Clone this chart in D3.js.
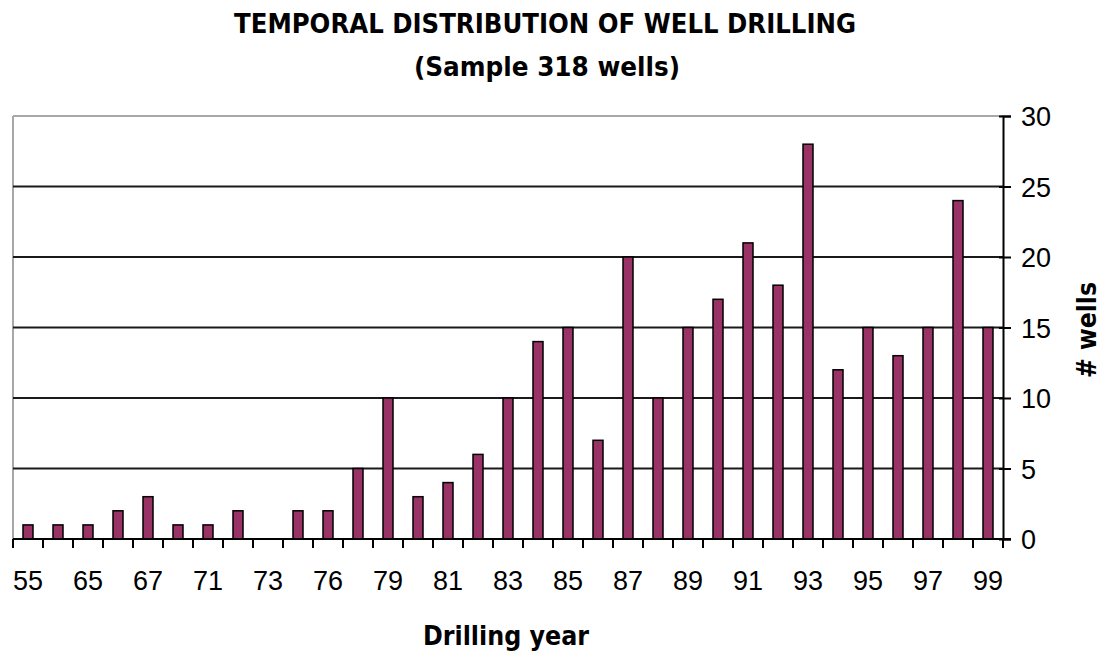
<!DOCTYPE html>
<html>
<head>
<meta charset="utf-8">
<script src="https://cdn.jsdelivr.net/npm/d3@7"></script>
<style>
  body { margin: 0; background: #fff; }
  svg { display: block; }
  .lbl { font-family: "Liberation Sans", Arial, sans-serif; font-size: 27px; fill: #000; }
  .ttl { font-family: "Liberation Sans Narrow", "DejaVu Sans Condensed", "Liberation Sans", sans-serif; font-weight: bold; fill: #000; }
</style>
</head>
<body>
<svg id="chart" width="1103" height="653"></svg>
<script>
// drilling years (only every other one is labelled on the axis)
const years = ["55","60","65","66","67","69","71","72","73","75","76","78","79","80","81","82","83",
               "84","85","86","87","88","89","90","91","92","93","94","95","96","97","98","99"];
const wells = [1,1,1,2,3,1,1,2,0,2,2,5,10,3,4,6,10,
               14,15,7,20,10,15,17,21,18,28,12,15,13,15,24,15];
const xTickLabels = ["55","65","67","71","73","76","79","81","83","85","87","89","91","93","95","97","99"];
const yTicks = [0,5,10,15,20,25,30];

const svg = d3.select("#chart");
const plotLeft = 13, plotRight = 1003, plotTop = 116, plotBottom = 539;

const x = d3.scaleBand().domain(years).range([plotLeft, plotRight]).padding(0);
const y = d3.scaleLinear().domain([0, 30]).range([plotBottom, plotTop]);

// titles
svg.append("text").attr("class", "ttl")
  .attr("x", 545).attr("y", 33).attr("text-anchor", "middle")
  .attr("font-size", 27).attr("textLength", 622).attr("lengthAdjust", "spacingAndGlyphs")
  .text("TEMPORAL DISTRIBUTION OF WELL DRILLING");
svg.append("text").attr("class", "ttl")
  .attr("x", 547).attr("y", 76).attr("text-anchor", "middle")
  .attr("font-size", 27).attr("textLength", 266).attr("lengthAdjust", "spacingAndGlyphs")
  .text("(Sample 318 wells)");

// frame (top + left in gray)
svg.append("line").attr("x1", plotLeft).attr("x2", plotRight).attr("y1", plotTop).attr("y2", plotTop)
  .attr("stroke", "#a8a8a8").attr("stroke-width", 2);
svg.append("line").attr("x1", plotLeft).attr("x2", plotLeft).attr("y1", plotTop).attr("y2", plotBottom)
  .attr("stroke", "#a8a8a8").attr("stroke-width", 2);

// grid lines
svg.selectAll(".grid").data(yTicks.filter(d => d > 0 && d < 30)).enter()
  .append("line").attr("class", "grid")
  .attr("x1", plotLeft).attr("x2", plotRight)
  .attr("y1", d => y(d)).attr("y2", d => y(d))
  .attr("stroke", "#1a1a1a").attr("stroke-width", 2);

// bars
svg.selectAll(".bar").data(wells).enter()
  .append("rect").attr("class", "bar")
  .attr("x", (d, i) => x(years[i]) + x.bandwidth() / 2 - 5)
  .attr("width", 10)
  .attr("y", d => y(d))
  .attr("height", d => plotBottom - y(d))
  .attr("fill", "#993366")
  .attr("stroke", "#000").attr("stroke-width", 1.5);

// x axis: ticks on category boundaries, labels on every other category
const xAxisG = svg.append("g");
xAxisG.append("line").attr("x1", plotLeft).attr("x2", plotRight + 8).attr("y1", plotBottom).attr("y2", plotBottom)
  .attr("stroke", "#000").attr("stroke-width", 2);
const bounds = years.map(d => x(d)).concat([plotRight]);
xAxisG.selectAll(".xt").data(bounds).enter()
  .append("line").attr("class", "xt")
  .attr("x1", d => d).attr("x2", d => d)
  .attr("y1", plotBottom).attr("y2", plotBottom + 9)
  .attr("stroke", "#000").attr("stroke-width", 2);
xAxisG.selectAll(".xl").data(xTickLabels).enter()
  .append("text").attr("class", "lbl")
  .attr("x", d => x(d) + x.bandwidth() / 2)
  .attr("y", 590).attr("text-anchor", "middle")
  .text(d => d);

// right y axis
const yAxis = d3.axisRight(y).tickValues(yTicks).tickSize(8).tickPadding(10);
const yAxisG = svg.append("g").attr("transform", "translate(" + plotRight + ",0)").call(yAxis);
yAxisG.select(".domain").attr("stroke", "#000").attr("stroke-width", 2);
yAxisG.selectAll(".tick line").attr("stroke", "#000").attr("stroke-width", 2).attr("x1", -4);
yAxisG.attr("font-size", null).attr("font-family", null);
yAxisG.selectAll(".tick text").attr("class", "lbl").attr("dy", "0.36em");

// axis titles
svg.append("text").attr("class", "ttl")
  .attr("x", 506).attr("y", 645).attr("text-anchor", "middle")
  .attr("font-size", 27).attr("textLength", 166).attr("lengthAdjust", "spacingAndGlyphs")
  .text("Drilling year");
svg.append("text").attr("class", "ttl")
  .attr("transform", "translate(1096,330) rotate(-90)")
  .attr("text-anchor", "middle")
  .attr("font-size", 27).attr("textLength", 96).attr("lengthAdjust", "spacingAndGlyphs")
  .text("# wells");
</script>
</body>
</html>
